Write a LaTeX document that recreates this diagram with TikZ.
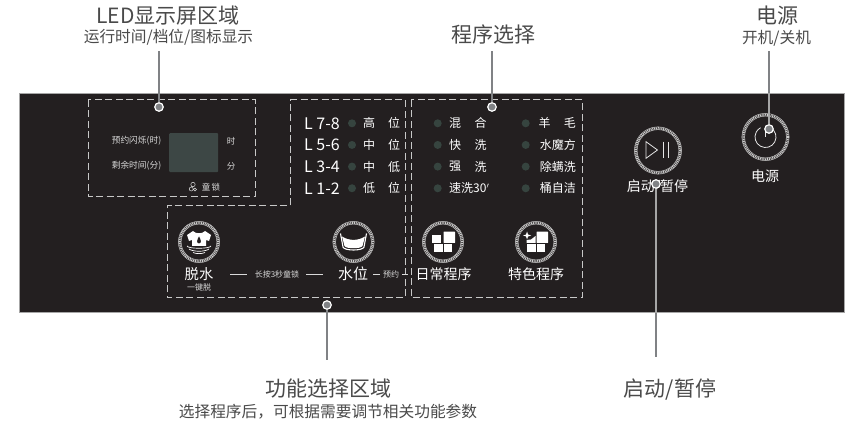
\documentclass[tikz,border=0pt]{standalone}
\usepackage{fontspec}
\setmainfont{Noto Sans CJK SC}
\usetikzlibrary{positioning}
\definecolor{panelc}{HTML}{231F20}
\definecolor{ledc}{HTML}{36443F}
\definecolor{screenc}{HTML}{3D4745}
\definecolor{linec}{HTML}{808285}
\definecolor{dashc}{HTML}{C8C8C8}
\definecolor{labelc}{HTML}{4A4A4A}
\tikzset{
  title/.style={text=labelc,font=\fontsize{21}{23}\selectfont,inner sep=0pt},
  subtitle/.style={text=labelc,font=\fontsize{15.7}{17}\selectfont,inner sep=0pt},
  ptext/.style={text=white,inner sep=0pt,font=\fontsize{#1}{#1}\selectfont},
  ptext/.default=12,
  ltext/.style={text=white!85!black,inner sep=0pt,font=\fontsize{#1}{#1}\selectfont},
  ltext/.default=8,
  led/.style={circle,fill=ledc,inner sep=0pt,minimum size=8pt},
  area/.style={draw=dashc,line width=1pt,dash pattern=on 7pt off 3.5pt},
  ring/.style={circle,inner sep=0pt,minimum size=#1,draw=white!80!black,line width=2.2pt,
    dash pattern=on 1pt off .8pt,
    preaction={draw=white!85!black,solid,line width=.5pt,double=panelc,double distance=2.2pt}},
  ring/.default=38.5pt,
  lead/.style={draw=linec,line width=1.2pt},
  leadin/.style={draw=white!65!black,line width=2.8pt},
  dot/.style={circle,draw=white,fill=linec,line width=1.2pt,inner sep=0pt,minimum size=8.5pt},
  glyph/.style={draw=white!90!black,line width=.8pt},
  block/.style={fill=white}
}
\begin{document}
\begin{tikzpicture}[x=1pt,y=-1pt]
  \useasboundingbox (0,0) rectangle (852,422);
  \fill[white] (0,0) rectangle (852,422);
  % Panel
  \node[fill=panelc,draw=black!35,line width=.6pt,inner sep=0pt,minimum width=825pt,minimum height=219pt,anchor=north west] (panel) at (19,93.5) {};

  % Areas
  \draw[area] (88,100) rectangle (255,197);
  \draw[area] (290,100) -- (405,100) -- (405,298) -- (167,298) -- (167,206) -- (290,206) -- cycle;
  \draw[area] (411,100) rectangle (582,298);

  % LED screen
  \node[fill=screenc,rounded corners=1pt,inner sep=0pt,minimum width=49pt,minimum height=39pt,anchor=north west] (screen) at (169,133) {};
  \node[ltext=8.7] (yue) at (136.5,140.7) {预约闪烁(时)};
  \node[ltext=8.7] (sheng) at (136.5,165.7) {剩余时间(分)};
  \node[ltext=8.5] (shi) at (231,141) {时};
  \node[ltext=8.5] (fen) at (231,166) {分};
  \node[ltext=8.5] (lock) at (211,187) {童\,锁};
  \draw[white!85!black,line width=.5pt] (193,184.5) circle (2.2pt) (191.2,189) circle (2pt) (195,189.5) circle (1.6pt);

  % Levels
  \foreach \i/\lv/\ta/\tb in {0/L 7-8/高/位,1/L 5-6/中/位,2/L 3-4/中/低,3/L 1-2/低/位} {
    \node[ptext=16,anchor=west] (lv\i) at (304,123.3+21.65*\i) {\lv};
    \node[led] (ledl\i) at (352,123.3+21.65*\i) {};
    \node[ptext] (ta\i) at (369,123.3+21.65*\i) {\ta};
    \node[ptext] (tb\i) at (394,123.3+21.65*\i) {\tb};
  }

  % Programs
  \foreach \i/\ta/\tb/\tc in {0/混/合/羊\hspace{1.1em}毛,1/快/洗/水魔方,2/强/洗/除螨洗} {
    \node[led] (ledp\i) at (437.7,123.3+21.65*\i) {};
    \node[ptext] (pa\i) at (455,123.3+21.65*\i) {\ta};
    \node[ptext] (pb\i) at (480.5,123.3+21.65*\i) {\tb};
    \node[led] (ledq\i) at (525.7,123.3+21.65*\i) {};
    \node[ptext,anchor=east] (pc\i) at (576,123.3+21.65*\i) {\tc};
  }
  \node[led] (ledp3) at (437.7,188.3) {};
  \node[ptext,anchor=west] (pa3) at (449,188.3) {速洗30$'$};
  \node[led] (ledq3) at (525.7,188.3) {};
  \node[ptext,anchor=east] (pc3) at (576,188.3) {桶自洁};

  % Buttons
  \node[ring] (tuo) at (199,242) {};
  \node[ring] (shui) at (353.5,242) {};
  \node[ring] (daily) at (443,242) {};
  \node[ring] (special) at (536,242) {};
  \node[ring=44.5pt] (start) at (658,150.5) {};
  \node[ring=44.5pt] (power) at (765.5,137) {};

  \node[ptext=14.3] (tuot) at (199,274) {脱水};
  \node[ltext=8] (tuos) at (199,287) {一键脱};
  \node[ptext=15] (shuit) at (353,274) {水位};
  \node[ltext=8] (yuyue) at (391,274) {预约};
  \node[ltext=8] (hold) at (277,274) {长按3秒童锁};
  \draw[white!85!black,line width=.6pt] (230,274) -- (247,274) (306,274) -- (323,274) (373,274) -- (380,274) (402,274) -- (408,274);
  \node[ptext=14] (dailyt) at (443.5,274) {日常程序};
  \node[ptext=14] (specialt) at (536,274) {特色程序};
  \node[ptext=14] (startt) at (657.5,187) {启动/暂停};
  \node[ptext=14] (powert) at (765,176) {电源};

  % Icons
  \fill[block] (193,231) .. controls (195,234) and (203,234) .. (205,231) -- (211,235) -- (209,241) -- (206,240) -- (206,246) -- (192,246) -- (192,240) -- (189,241) -- (187,235) -- cycle;
  \fill[panelc] (199,236.5) .. controls (197,240) and (196,243) .. (199,243.5) .. controls (202,243) and (201,240) .. (199,236.5);
  \draw[white,line width=.7pt] (187,246) .. controls (188,249) and (210,249) .. (211,246);
  \draw[white,line width=.7pt] (189,249) .. controls (193,252) and (205,252) .. (209,249);
  \draw[white,line width=.7pt] (193,252.5) .. controls (196,254) and (202,254) .. (205,252.5);
  \draw[white,line width=1.1pt] (340.5,233.5) -- (343,247) .. controls (344,251) and (363,251) .. (364,247) -- (366.5,233.5);
  \fill[white] (342,236.5) .. controls (349,241) and (358,241) .. (365,236.5) -- (362.5,246) .. controls (361,249) and (346,249) .. (344.5,246) -- cycle;
  \foreach \c in {443,536} {
    \fill[block] (\c-9.5,244.5) rectangle +(9,8);
    \fill[block] (\c+.5,244.5) rectangle +(8.5,8);
    \fill[block,rounded corners=.5pt] (\c+.5,231.7) rectangle +(11.5,11.3);
  }
  \fill[block] (432,235.5) rectangle (441,243);
  \fill[block] (531,239.5) -- (535.5,236) -- (535.5,243) -- (526.5,243) -- (526.5,240) -- cycle;
  \fill[block] (527,231.5) -- (528,234.5) -- (531,235.5) -- (528,236.5) -- (527,239.5) -- (526,236.5) -- (523,235.5) -- (526,234.5) -- cycle;
  \draw[glyph] (646,141.7) -- (657.5,150) -- (646,158.3) -- cycle;
  \draw[glyph] (663.3,141.7) -- (663.3,158.3) (668.7,141.7) -- (668.7,158.3);
  \draw[glyph] (power.center) ++(62:10.5pt) arc[start angle=62,end angle=-242,radius=10.5pt];
  \draw[glyph] (power.center) -- ++(0,-11);

  % Leaders
  \node[title] (ledtitle) at (168,16) {LED显示屏区域};
  \node[subtitle] (ledsub) at (168.5,37) {运行时间/档位/图标显示};
  \node[title] (progtitle) at (493.5,35) {程序选择};
  \node[title] (powtitle) at (777,16) {电源};
  \node[subtitle] (powsub) at (776.5,38) {开机/关机};
  \node[title] (functitle) at (328,389) {功能选择区域};
  \node[subtitle] (funcsub) at (328,412) {选择程序后，可根据需要调节相关功能参数};
  \node[title] (starttitle) at (670,390) {启动/暂停};

  \node[dot] (dled) at (159,107) {};
  \node[dot] (dprog) at (492,107) {};
  \node[dot] (dfunc) at (327,305) {};
  \node[dot] (dstart) at (656,184) {};
  \node[dot] (dpow) at (769,129) {};
  \coordinate (eled) at (159,51);
  \coordinate (eprog) at (492,51);
  \coordinate (efunc) at (327,360);
  \coordinate (estart) at (656,356.5);
  \coordinate (epow) at (769,51);
  \draw[lead] (dled) -- (eled);
  \draw[lead] (dprog) -- (eprog);
  \draw[lead] (dfunc) -- (efunc);
  \draw[lead] (dstart) -- (estart);
  \draw[lead] (dpow) -- (epow);
  \draw[leadin] (dstart) -- (dstart |- panel.south);
  \draw[leadin] (dpow) -- (dpow |- panel.north);
\end{tikzpicture}
\end{document}
